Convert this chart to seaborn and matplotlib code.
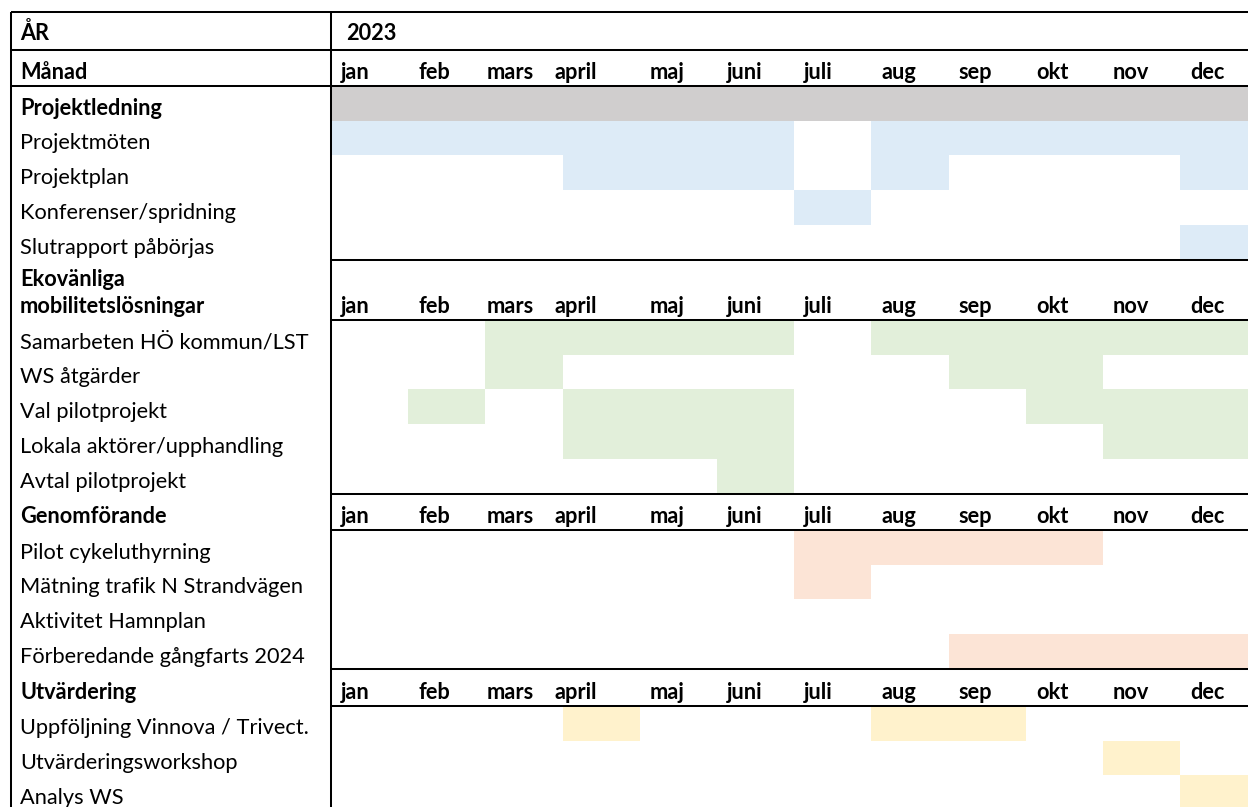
import matplotlib
matplotlib.use("Agg")
import matplotlib.pyplot as plt
from matplotlib.colors import ListedColormap
import numpy as np
import seaborn as sns

# ---- schedule data -------------------------------------------------------
year_label = "2023"
months = ["jan", "feb", "mars", "april", "maj", "juni",
          "juli", "aug", "sep", "okt", "nov", "dec"]

sec1_title = "Projektledning"
sec1_tasks = ["Projektmöten", "Projektplan", "Konferenser/spridning",
              "Slutrapport påbörjas"]
sec1_active = [
    [1, 1, 1, 1, 1, 1, 0, 1, 1, 1, 1, 1],
    [0, 0, 0, 1, 1, 1, 0, 1, 0, 0, 0, 1],
    [0, 0, 0, 0, 0, 0, 1, 0, 0, 0, 0, 0],
    [0, 0, 0, 0, 0, 0, 0, 0, 0, 0, 0, 1],
]

sec2_title = ["Ekovänliga", "mobilitetslösningar"]
sec2_tasks = ["Samarbeten HÖ kommun/LST", "WS åtgärder", "Val pilotprojekt",
              "Lokala aktörer/upphandling", "Avtal pilotprojekt"]
sec2_active = [
    [0, 0, 1, 1, 1, 1, 0, 1, 1, 1, 1, 1],
    [0, 0, 1, 0, 0, 0, 0, 0, 1, 1, 0, 0],
    [0, 1, 0, 1, 1, 1, 0, 0, 0, 1, 1, 1],
    [0, 0, 0, 1, 1, 1, 0, 0, 0, 0, 1, 1],
    [0, 0, 0, 0, 0, 1, 0, 0, 0, 0, 0, 0],
]

sec3_title = "Genomförande"
sec3_tasks = ["Pilot cykeluthyrning", "Mätning trafik N Strandvägen",
              "Aktivitet Hamnplan", "Förberedande gångfarts 2024"]
sec3_active = [
    [0, 0, 0, 0, 0, 0, 1, 1, 1, 1, 0, 0],
    [0, 0, 0, 0, 0, 0, 1, 0, 0, 0, 0, 0],
    [0, 0, 0, 0, 0, 0, 0, 0, 0, 0, 0, 0],
    [0, 0, 0, 0, 0, 0, 0, 0, 1, 1, 1, 1],
]

sec4_title = "Utvärdering"
sec4_tasks = ["Uppföljning Vinnova / Trivect.", "Utvärderingsworkshop",
              "Analys WS"]
sec4_active = [
    [0, 0, 0, 1, 0, 0, 0, 1, 1, 0, 0, 0],
    [0, 0, 0, 0, 0, 0, 0, 0, 0, 0, 1, 0],
    [0, 0, 0, 0, 0, 0, 0, 0, 0, 0, 0, 1],
]

# ---- styling ---------------------------------------------------------------
sns.set_theme(style="white")
plt.rcParams["font.family"] = ["Lato", "DejaVu Sans"]

W, H = 1248, 807
DPI = 100
FS = 15.7
LW = 1.45

GRAY = "#D0CECE"
BLUE = "#DDEBF7"
GREEN = "#E2EFDA"
SALMON = "#FCE4D6"
YELLOW = "#FFF2CC"

X_LEFT = 10.5         # outer border
X_SPLIT = 330.5       # label column / month grid separator
COL0 = 331.0          # first month column
COLW = 77.2           # month column width
ROW = 34.7            # task row height

# month headings are left-aligned in their cells; the two longer
# names sit a little further left
MONTH_PAD = 10
MONTH_NUDGE = {"mars": -9, "april": -18}

fig = plt.figure(figsize=(W / DPI, H / DPI), dpi=DPI)
fig.patch.set_facecolor("white")


def px_axes(x0, y0, x1, y1):
    """Axes placed in figure pixel coordinates (y measured from top)."""
    return fig.add_axes([x0 / W, 1 - y1 / H, (x1 - x0) / W, (y1 - y0) / H])


def grid_block(matrix, color, y0, header_gray=False):
    data = np.array(matrix, dtype=float)
    if header_gray:
        data = np.vstack([np.full(len(months), 2.0), data])
    n = data.shape[0]
    ax = px_axes(COL0, y0, COL0 + COLW * len(months), y0 + n * ROW)
    sns.heatmap(data, ax=ax, cmap=ListedColormap(["white", color, GRAY]),
                vmin=-0.5, vmax=2.5, cbar=False, linewidths=0,
                xticklabels=False, yticklabels=False)
    ax.set_axis_off()
    return y0 + n * ROW


# vertical layout
y_top = 12.0
y_year = 50.0
y_month = 86.0
y_s1_end = grid_block(sec1_active, BLUE, y_month, header_gray=True)
y_s2_start = y_s1_end + 60.5
y_s2_end = grid_block(sec2_active, GREEN, y_s2_start)
y_s3_start = y_s2_end + 36.5
y_s3_end = grid_block(sec3_active, SALMON, y_s3_start)
y_s4_start = y_s3_end + 37.0
y_s4_end = grid_block(sec4_active, YELLOW, y_s4_start)

# overlay for text and rules
ov = px_axes(0, 0, W, H)
ov.set_xlim(0, W)
ov.set_ylim(H, 0)
ov.set_axis_off()
ov.patch.set_alpha(0)

TX = 20
BASE = 6.0


def label(x, y_bottom, s, bold=False, off=BASE):
    ov.text(x, y_bottom - off, s, fontsize=FS, va="baseline", ha="left",
            fontweight="bold" if bold else "normal", color="black")


def month_row(y_bottom):
    for i, m in enumerate(months):
        x = COL0 + i * COLW + MONTH_PAD + MONTH_NUDGE.get(m, 0)
        label(x, y_bottom, m, bold=True, off=7.0)


# header rows
label(TX, y_year, "ÅR", bold=True, off=10.0)
label(COL0 + 15, y_year, year_label, bold=True, off=10.0)
label(TX, y_month, "Månad", bold=True, off=7.0)
month_row(y_month)

# section 1
label(TX, y_month + ROW, sec1_title, bold=True)
for i, t in enumerate(sec1_tasks):
    label(TX, y_month + (i + 2) * ROW, t)

# section 2
label(TX, y_s2_start - 28, sec2_title[0], bold=True)
label(TX, y_s2_start, sec2_title[1], bold=True, off=7.0)
month_row(y_s2_start)
for i, t in enumerate(sec2_tasks):
    label(TX, y_s2_start + (i + 1) * ROW, t)

# section 3
label(TX, y_s3_start, sec3_title, bold=True, off=7.0)
month_row(y_s3_start)
for i, t in enumerate(sec3_tasks):
    label(TX, y_s3_start + (i + 1) * ROW, t)

# section 4
label(TX, y_s4_start, sec4_title, bold=True, off=7.0)
month_row(y_s4_start)
for i, t in enumerate(sec4_tasks):
    label(TX, y_s4_start + (i + 1) * ROW, t)

# rules
for y in (y_top, y_year, y_month):
    ov.plot([X_LEFT, W], [y, y], color="black", lw=LW, solid_capstyle="butt")
for y in (y_s1_end, y_s2_start, y_s2_end, y_s3_start, y_s3_end, y_s4_start):
    ov.plot([X_SPLIT, W], [y, y], color="black", lw=LW, solid_capstyle="butt")
for x in (X_LEFT, X_SPLIT):
    ov.plot([x, x], [y_top, H], color="black", lw=LW, solid_capstyle="butt")

fig.savefig("out.png", dpi=DPI)
